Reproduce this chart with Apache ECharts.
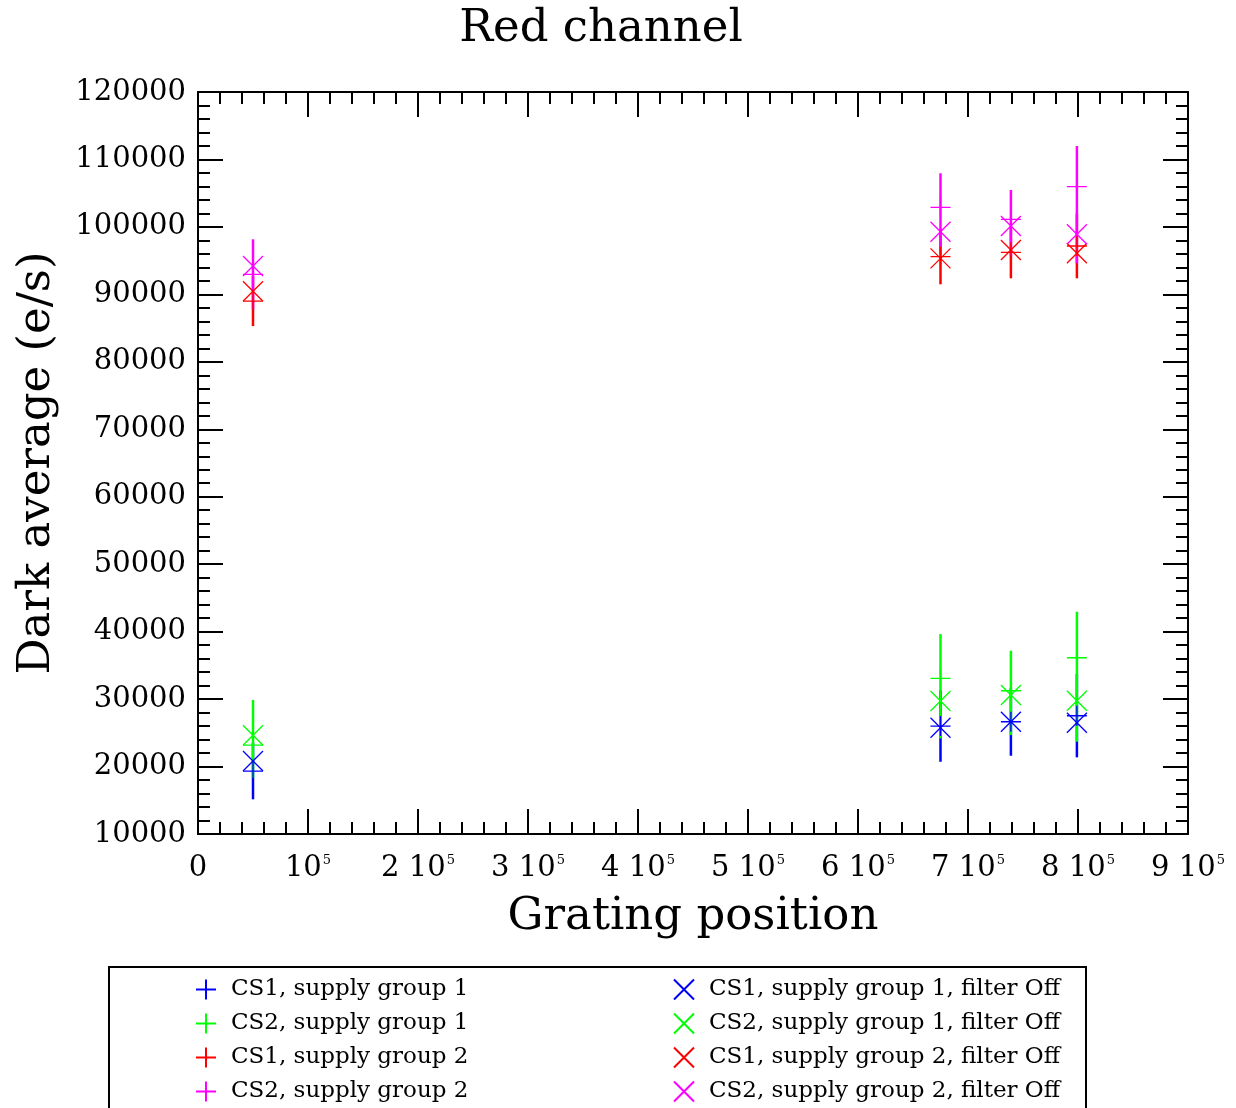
<!DOCTYPE html>
<html>
<head>
<meta charset="utf-8">
<script src="https://cdn.jsdelivr.net/npm/echarts@6/dist/echarts.min.js"></script>
<style>html,body{margin:0;padding:0;background:#fff;}#c{width:1236px;height:1108px;}</style>
</head>
<body>
<div id="c"></div>
<script>
// ---- data ----
const xPositions = [50000, 675000, 739000, 799000];
const xTickBase = ['0', '10', '2 10', '3 10', '4 10', '5 10', '6 10', '7 10', '8 10', '9 10'];
const xTickExp = ['', '5', '5', '5', '5', '5', '5', '5', '5', '5'];

const cs1g1 = [19330, 26000, 26640, 27530];
const cs1g1Low = [15140, 20710, 21600, 21360];
const cs1g1High = [23520, 31290, 31680, 33700];

const cs2g1 = [23190, 33070, 31235, 36130];
const cs2g1Low = [18300, 24180, 24670, 23680];
const cs2g1High = [29860, 39640, 37165, 42950];

const cs1g2 = [89010, 95580, 96230, 97170];
const cs1g2Low = [85300, 91490, 92380, 92380];
const cs1g2High = [92720, 99640, 100080, 101960];

const cs2g2 = [92970, 102900, 101130, 105960];
const cs2g2Low = [87780, 95830, 95580, 94600];
const cs2g2High = [98160, 107950, 105470, 111990];

const cs1g1Off = [20815, 25750, 26640, 26490];
const cs2g1Off = [24630, 29710, 30600, 29750];
const cs1g2Off = [90450, 95340, 96575, 96090];
const cs2g2Off = [94200, 99290, 100130, 98900];

const plusNames = ['CS1, supply group 1', 'CS2, supply group 1', 'CS1, supply group 2', 'CS2, supply group 2'];
const crossNames = ['CS1, supply group 1, filter Off', 'CS2, supply group 1, filter Off', 'CS1, supply group 2, filter Off', 'CS2, supply group 2, filter Off'];
const colors = ['#0000ff', '#00ff00', '#ff0000', '#ff00ff'];

// ---- build ----
const FONT = 'DejaVu Serif';
const PLUS = 'path://M0,10L20,10M10,0L10,20';
const CROSS = 'path://M0,0L20,20M20,0L0,20';

const plusVals = [cs1g1, cs2g1, cs1g2, cs2g2];
const lows = [cs1g1Low, cs2g1Low, cs1g2Low, cs2g2Low];
const highs = [cs1g1High, cs2g1High, cs1g2High, cs2g2High];
const crossVals = [cs1g1Off, cs2g1Off, cs1g2Off, cs2g2Off];

const series = [];
for (let i = 0; i < 4; i++) {
  series.push({
    name: 'err' + i,
    type: 'custom',
    data: xPositions.map((x, j) => [x, lows[i][j], highs[i][j]]),
    renderItem: function (params, api) {
      const p1 = api.coord([api.value(0), api.value(1)]);
      const p2 = api.coord([api.value(0), api.value(2)]);
      return {
        type: 'line',
        shape: { x1: p1[0], y1: p1[1], x2: p2[0], y2: p2[1] },
        style: { stroke: colors[i], lineWidth: 2.5 }
      };
    },
    silent: true,
    z: 2
  });
  series.push({
    name: plusNames[i],
    type: 'scatter',
    symbol: PLUS,
    symbolSize: 20,
    data: xPositions.map((x, j) => [x, plusVals[i][j]]),
    itemStyle: { color: 'rgba(0,0,0,0)', borderColor: colors[i], borderWidth: 1.3, opacity: 1 },
    z: 3
  });
}
for (let i = 0; i < 4; i++) {
  series.push({
    name: crossNames[i],
    type: 'scatter',
    symbol: CROSS,
    symbolSize: 20,
    data: xPositions.map((x, j) => [x, crossVals[i][j]]),
    itemStyle: { color: 'rgba(0,0,0,0)', borderColor: colors[i], borderWidth: 1.3, opacity: 1 },
    z: 3
  });
}

function xFmt(v) {
  const k = Math.round(v / 100000);
  if (!xTickExp[k]) return '{b|' + xTickBase[k] + '}';
  return '{b|' + xTickBase[k] + '}{s|' + xTickExp[k] + '}';
}

function tickCommon() {
  return {
    axisLine: { show: true, onZero: false, lineStyle: { color: '#000', width: 2 } },
    axisTick: { show: true, inside: true, length: 25, lineStyle: { color: '#000', width: 2 } },
    minorTick: { show: true, splitNumber: 5, length: 12, lineStyle: { color: '#000', width: 2 } },
    splitLine: { show: false }
  };
}

const legendText = { fontFamily: FONT, fontSize: 23, color: '#000', padding: [0, 0, 0, 10], lineHeight: 20 };

const option = {
  animation: false,
  backgroundColor: '#fff',
  title: {
    text: 'Red channel',
    left: 596, top: 2, textAlign: 'center',
    textStyle: { fontFamily: FONT, fontSize: 45, fontWeight: 'normal', color: '#000' }
  },
  grid: { left: 198, top: 92, width: 990, height: 742 },
  xAxis: [
    Object.assign({
      type: 'value', position: 'bottom', min: 0, max: 900000, interval: 100000,
      name: 'Grating position', nameLocation: 'middle', nameGap: 61,
      nameTextStyle: { fontFamily: FONT, fontSize: 45, color: '#000' },
      axisLabel: {
        formatter: xFmt, margin: 20,
        rich: {
          b: { fontFamily: FONT, fontSize: 29, color: '#000' },
          s: { fontFamily: FONT, fontSize: 13, color: '#000', padding: [0, 0, 16, 1] }
        }
      }
    }, tickCommon()),
    Object.assign({
      type: 'value', position: 'top', min: 0, max: 900000, interval: 100000,
      axisLabel: { show: false }
    }, tickCommon())
  ],
  yAxis: [
    Object.assign({
      type: 'value', position: 'left', min: 10000, max: 120000, interval: 10000,
      name: 'Dark average (e/s)', nameLocation: 'middle', nameGap: 138,
      nameTextStyle: { fontFamily: FONT, fontSize: 45, color: '#000' },
      axisLabel: { fontFamily: FONT, fontSize: 29, color: '#000', margin: 12, formatter: function (v) { return String(v); } }
    }, tickCommon()),
    Object.assign({
      type: 'value', position: 'right', min: 10000, max: 120000, interval: 10000,
      axisLabel: { show: false }
    }, tickCommon())
  ],
  legend: [
    {
      data: plusNames, orient: 'vertical', left: 190, top: 973, height: 200,
      itemWidth: 20, itemHeight: 20, itemGap: 11,
      textStyle: legendText,
      selectedMode: false
    },
    {
      data: crossNames, orient: 'vertical', left: 668, top: 973, height: 200,
      itemWidth: 20, itemHeight: 20, itemGap: 11,
      textStyle: legendText,
      selectedMode: false
    }
  ],
  graphic: [
    {
      type: 'rect', left: 108, top: 966, z: -1,
      shape: { width: 977, height: 170 },
      style: { fill: '#fff', stroke: '#000', lineWidth: 2 }
    }
  ],
  series: series
};

const chart = echarts.init(document.getElementById('c'), null, { renderer: 'canvas' });
chart.setOption(option);
</script>
</body>
</html>
